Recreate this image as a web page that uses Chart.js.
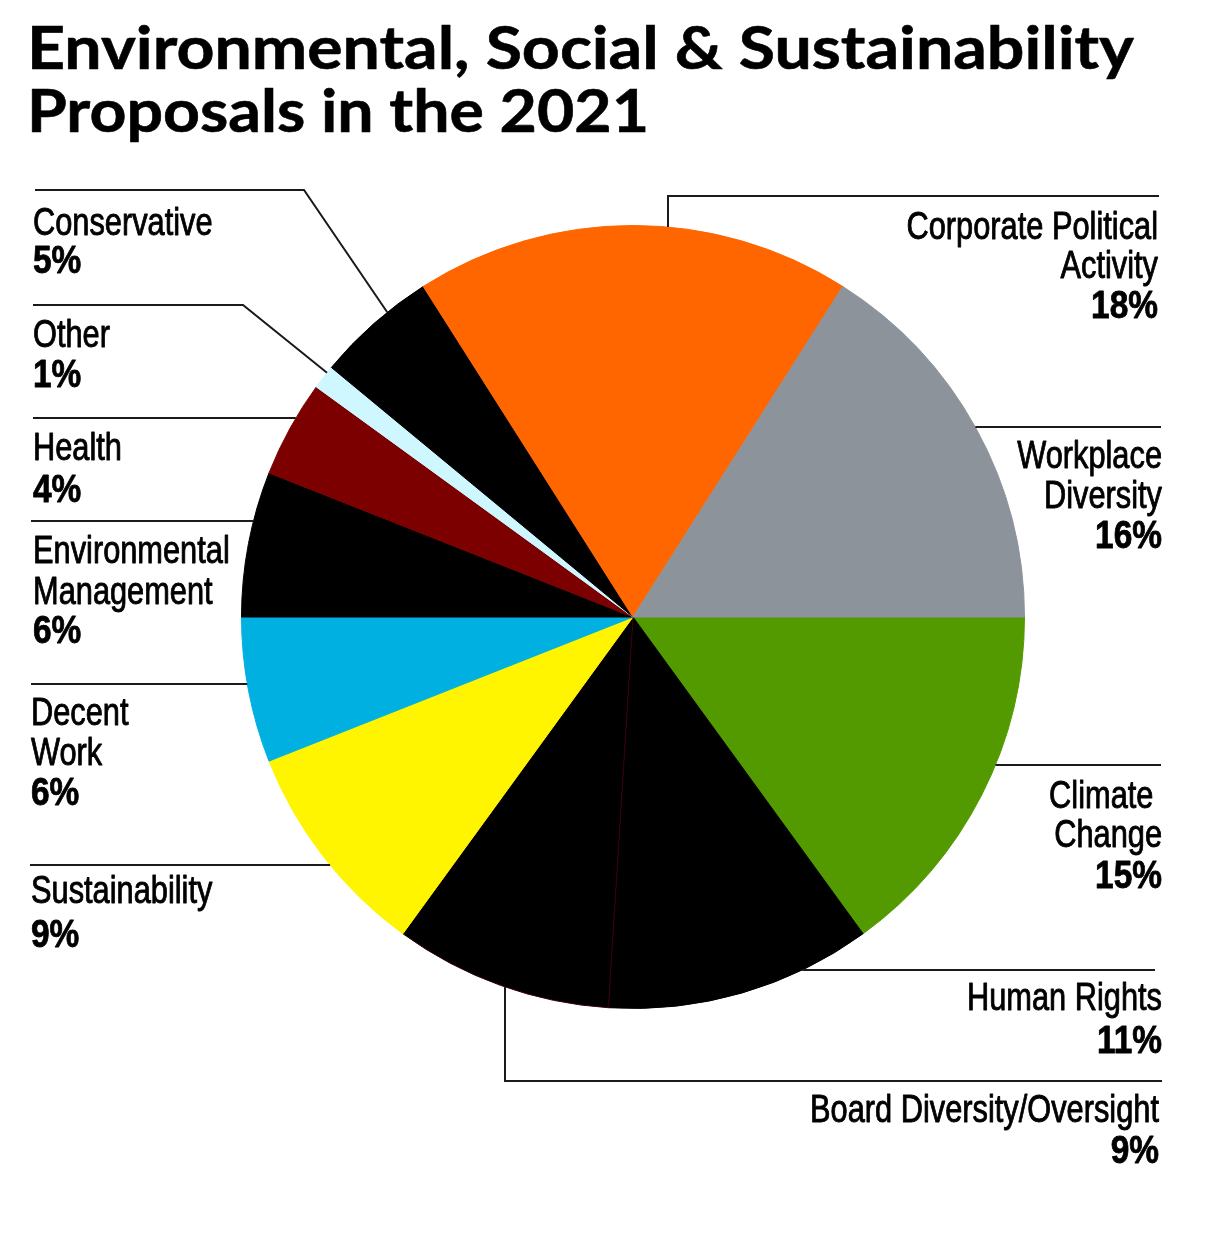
<!DOCTYPE html>
<html>
<head>
<meta charset="utf-8">
<title>ESG Proposals 2021</title>
<script src="https://cdn.jsdelivr.net/npm/chart.js@4/dist/chart.umd.min.js"></script>
<style>
  html, body { margin: 0; padding: 0; background: #fff; }
  #wrap { width: 1208px; height: 1242px; }
</style>
</head>
<body>
<div id="wrap"><canvas id="pieChart" width="1208" height="1242"></canvas></div>
<script>
// Data (clockwise from 3 o'clock)
const categories = [
    ['Climate ', 'Change'],
    ['Human Rights'],
    ['Board Diversity/Oversight'],
    ['Sustainability'],
    ['Decent', 'Work'],
    ['Environmental', 'Management'],
    ['Health'],
    ['Other'],
    ['Conservative'],
    ['Corporate Political', 'Activity'],
    ['Workplace', 'Diversity']
];
const shares = [15, 11, 9, 9, 6, 6, 4, 1, 5, 18, 16];
const sliceColors = ['#539a00', '#000000', '#000000', '#fff500', '#00b0e0', '#000000',
    '#7d0000', '#cef7ff', '#000000', '#ff6600', '#8c939b'];
const titleLines = ['Environmental, Social & Sustainability', 'Proposals in the 2021'];

// Label layout: text anchor, baselines, and leader line shape
// leader types: 'h' = horizontal line at y from x0 to circle edge
//               'elbow' = horizontal from x0 to (ex, y), then to circle edge at fraction f of slice
//               'v' = vertical at x from circle edge to y, then horizontal to x1
const labelLayout = [
    { side: 'right', x: 1162, lines: [808, 847], pct: 888, leader: { type: 'h', y: 765, x0: 1161 } },
    { side: 'right', x: 1162, lines: [1010], pct: 1053, leader: { type: 'h', y: 970, x0: 1155 } },
    { side: 'right', x: 1159, lines: [1122], pct: 1163, leader: { type: 'v', x: 505, y: 1081, x1: 1162 } },
    { side: 'left', x: 31, lines: [903], pct: 947, leader: { type: 'h', y: 865, x0: 30 } },
    { side: 'left', x: 31, lines: [725, 765], pct: 805, leader: { type: 'h', y: 684, x0: 31 } },
    { side: 'left', x: 33, lines: [563, 604], pct: 643, leader: { type: 'h', y: 521, x0: 31 } },
    { side: 'left', x: 33, lines: [460], pct: 502, leader: { type: 'h', y: 418, x0: 33 } },
    { side: 'left', x: 33, lines: [347], pct: 387, leader: { type: 'elbow', y: 305, x0: 33, ex: 243, f: 0.72 } },
    { side: 'left', x: 33, lines: [235], pct: 273, leader: { type: 'elbow', y: 190, x0: 35, ex: 304, f: 0.64 } },
    { side: 'right', x: 1158, lines: [239, 278], pct: 318, leader: { type: 'v', x: 668, y: 196, x1: 1159 } },
    { side: 'right', x: 1162, lines: [468, 508], pct: 548, leader: { type: 'h', y: 427, x0: 1161 } }
];

const TITLE_FONT = 'bold 60px Lato, "Open Sans", sans-serif';
const NAME_FONT = '38px "Liberation Sans", Arial, sans-serif';
const PCT_FONT = 'bold 38px "Liberation Sans", Arial, sans-serif';
const NAME_SCALE = 0.81;
const PCT_SCALE = 0.88;

function drawText(ctx, text, x, y, align, font, sx, weight) {
    ctx.save();
    ctx.translate(x, y);
    ctx.scale(sx, 1);
    ctx.font = font;
    ctx.textAlign = align;
    ctx.textBaseline = 'alphabetic';
    ctx.fillStyle = '#000';
    ctx.fillText(text, 0, 0);
    if (weight) {
        // thicken the condensed face a little
        ctx.strokeStyle = '#000';
        ctx.lineWidth = weight;
        ctx.lineJoin = 'round';
        ctx.strokeText(text, 0, 0);
    }
    ctx.restore();
}

function textWidth(ctx, text, font) {
    ctx.save();
    ctx.font = font;
    const w = ctx.measureText(text).width;
    ctx.restore();
    return w;
}

// Plugin: title, labels and leader lines
const annotatePlugin = {
    id: 'annotate',
    afterDraw(chart) {
        const ctx = chart.ctx;
        const meta = chart.getDatasetMeta(0);

        // Title
        const sx1 = 1107 / textWidth(ctx, titleLines[0], TITLE_FONT);
        const sx2 = 622 / textWidth(ctx, titleLines[1], TITLE_FONT);
        drawText(ctx, titleLines[0], 27, 69, 'left', TITLE_FONT, sx1, 0.6);
        drawText(ctx, titleLines[1], 27, 132, 'left', TITLE_FONT, sx2, 0.6);

        ctx.save();
        ctx.strokeStyle = '#1a1a1a';
        ctx.lineWidth = 2;
        labelLayout.forEach((lay, i) => {
            const arc = meta.data[i].getProps(['x', 'y', 'startAngle', 'endAngle', 'outerRadius'], true);
            const cx = arc.x, cy = arc.y, r = arc.outerRadius;
            const L = lay.leader;
            ctx.beginPath();
            if (L.type === 'h') {
                const dx = Math.sqrt(Math.max(r * r - (L.y - cy) * (L.y - cy), 0));
                const edgeX = lay.side === 'left' ? cx - dx : cx + dx;
                ctx.moveTo(L.x0, L.y);
                ctx.lineTo(edgeX, L.y);
            } else if (L.type === 'elbow') {
                const a = arc.startAngle + (arc.endAngle - arc.startAngle) * L.f;
                ctx.moveTo(L.x0, L.y);
                ctx.lineTo(L.ex, L.y);
                ctx.lineTo(cx + r * Math.cos(a), cy + r * Math.sin(a));
            } else if (L.type === 'v') {
                const dy = Math.sqrt(Math.max(r * r - (L.x - cx) * (L.x - cx), 0));
                const edgeY = L.y < cy ? cy - dy : cy + dy;
                ctx.moveTo(L.x, edgeY);
                ctx.lineTo(L.x, L.y);
                ctx.lineTo(L.x1, L.y);
            }
            ctx.stroke();

            const align = lay.side === 'left' ? 'left' : 'right';
            categories[i].forEach((line, k) => {
                drawText(ctx, line, lay.x, lay.lines[k], align, NAME_FONT, NAME_SCALE, 0.9);
            });
            drawText(ctx, shares[i] + '%', lay.x, lay.pct, align, PCT_FONT, PCT_SCALE, 0.8);
        });
        ctx.restore();
    }
};

const borderColors = sliceColors.map((c, i) => (i === 2 ? '#3a0008' : c));

const ctx = document.getElementById('pieChart').getContext('2d');
new Chart(ctx, {
    type: 'pie',
    data: {
        labels: categories,
        datasets: [{
            data: shares,
            backgroundColor: sliceColors,
            borderColor: borderColors,
            borderWidth: 1
        }]
    },
    options: {
        responsive: false,
        animation: false,
        rotation: 90,
        layout: {
            padding: { left: 241, right: 183, top: 225, bottom: 233 }
        },
        plugins: {
            legend: { display: false },
            title: { display: false },
            tooltip: { enabled: false }
        }
    },
    plugins: [annotatePlugin]
});
</script>
</body>
</html>
